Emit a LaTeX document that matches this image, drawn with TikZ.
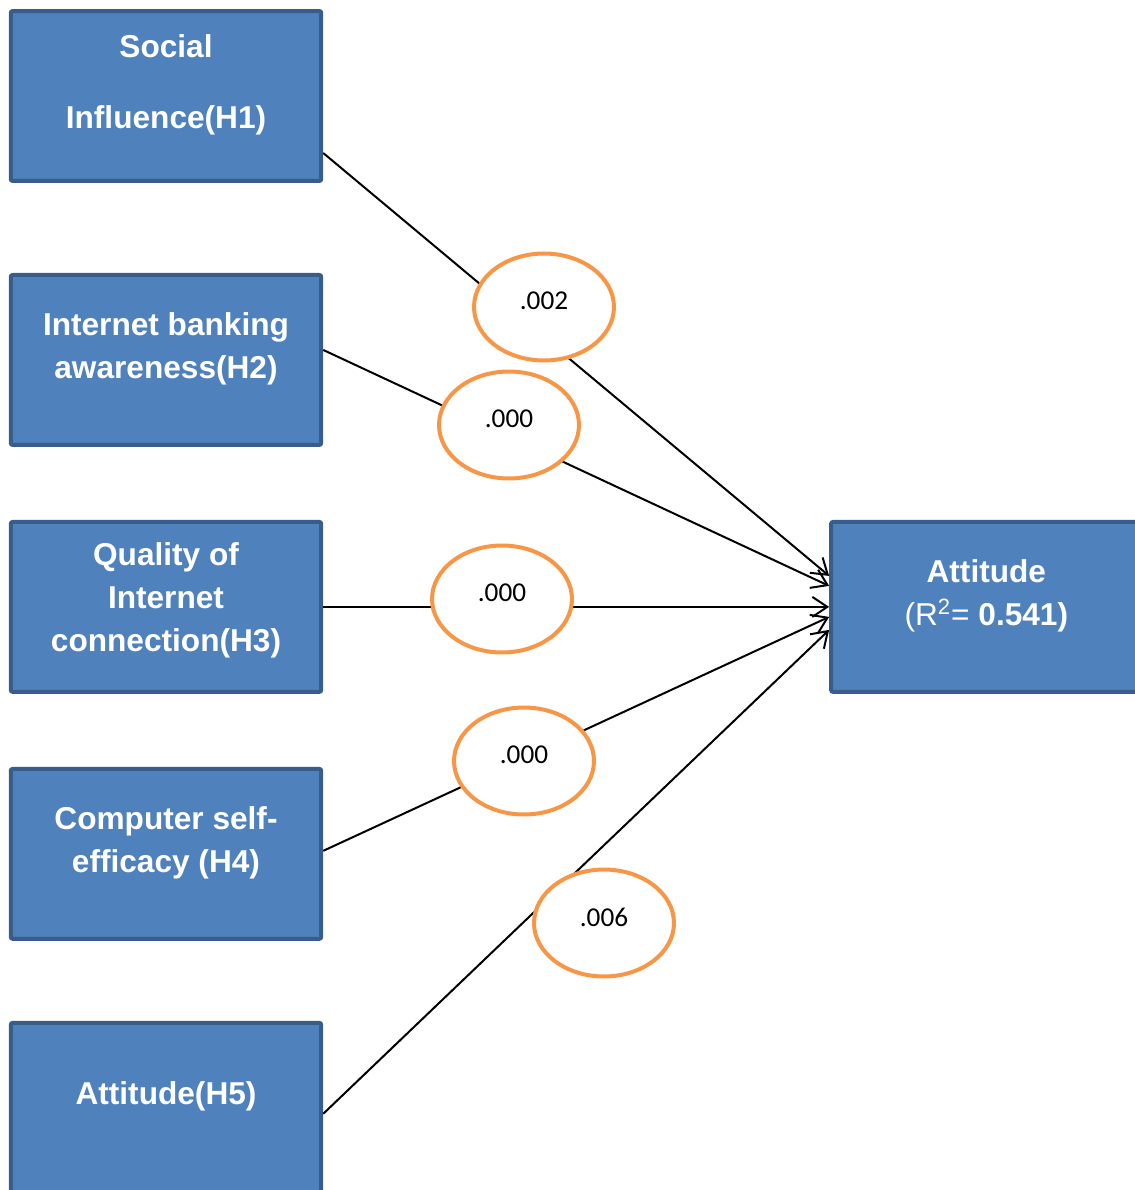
\documentclass[tikz,border=0pt]{standalone}
\usepackage{fontspec}
\setmainfont{Liberation Sans}
\newfontfamily\calibri{Carlito}
\usetikzlibrary{positioning, shapes.geometric, arrows.meta}
\definecolor{boxfill}{HTML}{4F81BD}
\definecolor{boxline}{HTML}{385D8A}
\definecolor{ovalline}{HTML}{F79646}

\begin{document}
\begin{tikzpicture}[x=0.02cm, y=-0.02cm,
        factor/.style={draw=boxline, fill=boxfill, line width=0.08cm, rounded corners=0.04cm, minimum width=6.21cm, minimum height=3.4cm, inner sep=0pt},
        factortext/.style={text=white, font=\fontsize{18}{24.5}\selectfont\bfseries, align=center, yshift=0.23cm},
        pval/.style={ellipse, draw=ovalline, fill=white, line width=0.08cm, minimum width=2.8cm, minimum height=2.14cm, inner sep=0pt, text depth=0.24cm, font=\calibri\fontsize{15.5}{18}\selectfont},
        link/.style={line width=0.04cm, -{Straight Barb[length=0.3cm, width=0.4cm]}}]
        \useasboundingbox (0,0) rectangle (1135,1190);

        \node [factor, label={[factortext]center:Social\\[16pt]Influence(H1)}] (h1) at (166,96) {};
        \node [factor, below=1.8cm of h1, label={[factortext]center:Internet banking\\awareness(H2)}] (h2) {};
        \node [factor, below=1.46cm of h2, label={[factortext, yshift=-0.09cm]center:Quality of\\Internet\\connection(H3)}] (h3) {};
        \node [factor, below=1.46cm of h3, label={[factortext]center:Computer self-\\efficacy (H4)}] (h4) {};
        \node [factor, below=1.6cm of h4, label={[factortext]center:Attitude(H5)}] (h5) {};
        \node [factor, right=10.12cm of h3, label={[factortext]center:{Attitude\\{\mdseries(R\textsuperscript{2}=} 0.541)}}] (att) {};

        \draw [link] ([yshift=-1.14cm]h1.east) -- ([yshift=0.62cm]att.west);
        \draw [link] ([yshift=0.2cm]h2.east) -- ([yshift=0.42cm]att.west);
        \draw [link] (h3.east) -- (att.west);
        \draw [link] ([yshift=0.06cm]h4.east) -- ([yshift=-0.2cm]att.west);
        \draw [link] ([yshift=-0.12cm]h5.east) -- ([yshift=-0.46cm]att.west);

        \node [pval] (p1) at (544,307) {.002};
        \node [pval] (p2) at (509,425) {.000};
        \node [pval] (p3) at (502,599) {.000};
        \node [pval] (p4) at (524,761) {.000};
        \node [pval] (p5) at (604,923) {.006};
    \end{tikzpicture}
\end{document}
